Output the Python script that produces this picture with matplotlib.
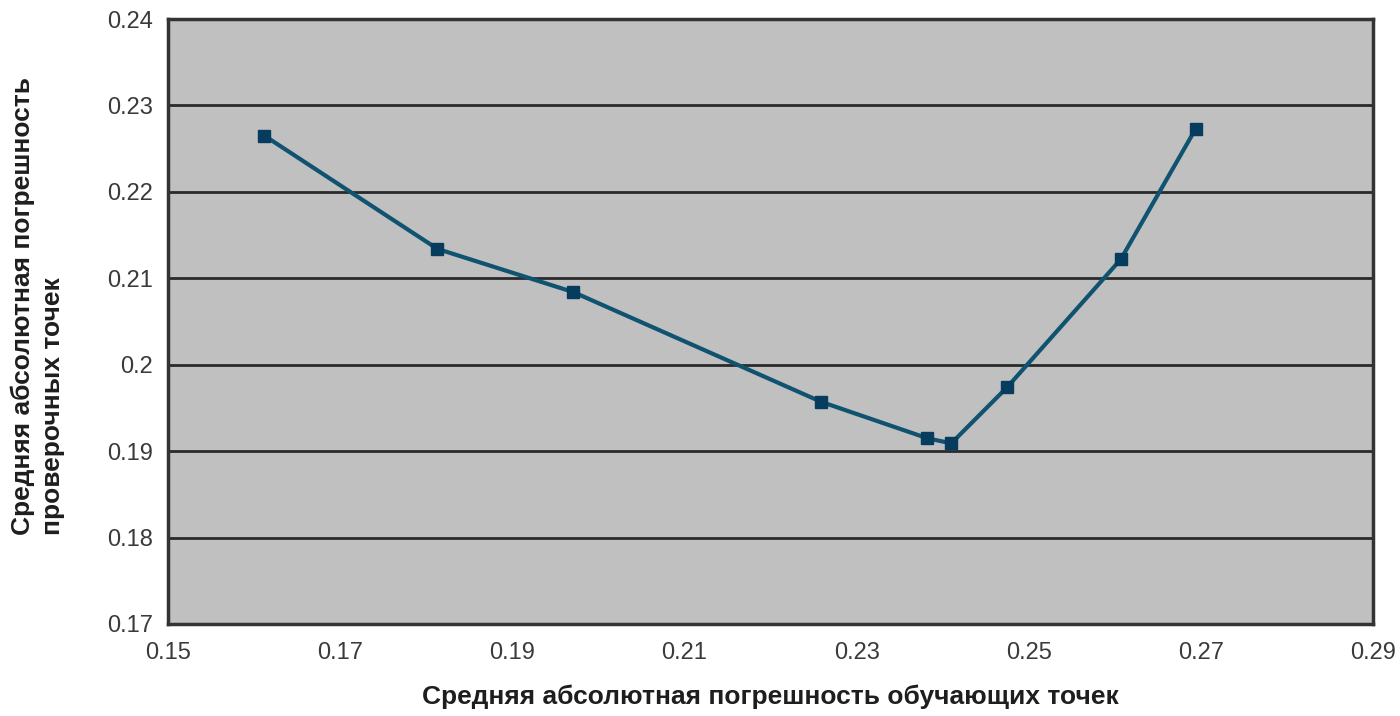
import matplotlib.pyplot as plt

# Данные
train_err = [0.1612, 0.1813, 0.1971, 0.2259, 0.2382, 0.2410, 0.2475, 0.2607, 0.2694]
test_err = [0.2265, 0.2134, 0.2084, 0.1957, 0.1915, 0.1909, 0.1974, 0.2122, 0.2273]

x_ticks = [0.15, 0.17, 0.19, 0.21, 0.23, 0.25, 0.27, 0.29]
y_ticks = [0.17, 0.18, 0.19, 0.2, 0.21, 0.22, 0.23, 0.24]

plt.rcParams['font.family'] = ['Liberation Sans', 'DejaVu Sans']

fig = plt.figure(figsize=(14, 7.16), dpi=100)
ax = fig.add_axes([168 / 1400, 1 - 624 / 716, (1373 - 168) / 1400, (624 - 19) / 716])
ax.set_facecolor('#c0c0c0')

ax.plot(train_err, test_err, color='#0f5370', linewidth=3,
        marker='s', markersize=8, markerfacecolor='#063c5e', markeredgecolor='#063c5e', zorder=3)

ax.set_xlim(0.15, 0.29)
ax.set_ylim(0.17, 0.24)
ax.set_xticks(x_ticks)
ax.set_xticklabels([f'{v:g}' for v in x_ticks])
ax.set_yticks(y_ticks)
ax.set_yticklabels([f'{v:g}' for v in y_ticks])
ax.tick_params(length=0, labelsize=17, colors='#3a3a3a')
ax.tick_params(axis='x', pad=13)
ax.tick_params(axis='y', pad=11)

ax.yaxis.grid(True, color='#2a2a2a', linewidth=2)
ax.set_axisbelow(True)
for s in ax.spines.values():
    s.set_color('#333333')
    s.set_linewidth(2.5)

ax.set_xlabel('Средняя абсолютная погрешность обучающих точек', fontsize=19,
              fontweight='bold', color='#1e1e1e', va='center')
ax.xaxis.set_label_coords(0.5, -0.121)
ax.set_ylabel('Средняя абсолютная погрешность\nпроверочных точек', fontsize=19,
              fontweight='bold', color='#1e1e1e', va='center', ha='center',
              multialignment='left', linespacing=1.3)
ax.yaxis.set_label_coords(-0.108, 0.525)

plt.savefig('out.png', dpi=100)
